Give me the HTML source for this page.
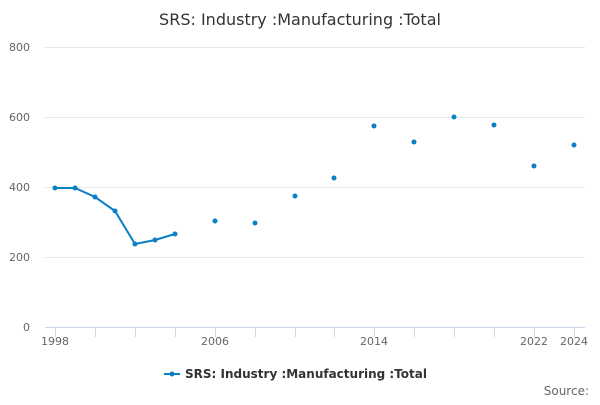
<!DOCTYPE html>
<html><head><meta charset="utf-8"><style>
body{margin:0;background:#fff;}
svg text{font-family:"DejaVu Sans","Liberation Sans",sans-serif;}
</style></head><body>
<svg width="600" height="400" xmlns="http://www.w3.org/2000/svg">
<rect width="600" height="400" fill="#fff"/>
<text x="300" y="25" text-anchor="middle" font-size="16" fill="#333">SRS: Industry :Manufacturing :Total</text>
<g stroke="#e6e6e6" stroke-width="1">
<line x1="45" x2="585" y1="47.5" y2="47.5"/>
<line x1="45" x2="585" y1="117.5" y2="117.5"/>
<line x1="45" x2="585" y1="187.5" y2="187.5"/>
<line x1="45" x2="585" y1="257.5" y2="257.5"/>
</g>
<line x1="45" x2="585" y1="327.5" y2="327.5" stroke="#ccd6eb"/>
<g stroke="#ccd6eb">
<line x1="55.5" x2="55.5" y1="327" y2="337"/><line x1="95.5" x2="95.5" y1="327" y2="337"/>
<line x1="135.5" x2="135.5" y1="327" y2="337"/><line x1="175.5" x2="175.5" y1="327" y2="337"/>
<line x1="215.5" x2="215.5" y1="327" y2="337"/><line x1="255.5" x2="255.5" y1="327" y2="337"/>
<line x1="295.5" x2="295.5" y1="327" y2="337"/><line x1="334.5" x2="334.5" y1="327" y2="337"/>
<line x1="374.5" x2="374.5" y1="327" y2="337"/><line x1="414.5" x2="414.5" y1="327" y2="337"/>
<line x1="454.5" x2="454.5" y1="327" y2="337"/><line x1="494.5" x2="494.5" y1="327" y2="337"/>
<line x1="534.5" x2="534.5" y1="327" y2="337"/><line x1="574.5" x2="574.5" y1="327" y2="337"/>
</g>
<g font-size="11" fill="#666" text-anchor="end">
<text x="30" y="51">800</text><text x="30" y="121">600</text><text x="30" y="191">400</text>
<text x="30" y="261">200</text><text x="30" y="331">0</text>
</g>
<g font-size="11" fill="#666" text-anchor="middle">
<text x="55" y="345">1998</text><text x="215" y="345">2006</text><text x="374" y="345">2014</text>
<text x="534" y="345">2022</text><text x="574" y="345">2024</text>
</g>
<polyline fill="none" stroke="#0a7fc2" stroke-width="2" points="55,188 75,188 95,197 115,211 135,244 155,240 175,234"/>
<g fill="#0a7fc2">
<circle cx="55" cy="188" r="2.5"/><circle cx="75" cy="188" r="2.5"/><circle cx="95" cy="197" r="2.5"/>
<circle cx="115" cy="211" r="2.5"/><circle cx="135" cy="244" r="2.5"/><circle cx="155" cy="240" r="2.5"/>
<circle cx="175" cy="234" r="2.5"/><circle cx="215" cy="221" r="2.5"/><circle cx="255" cy="223" r="2.5"/>
<circle cx="295" cy="196" r="2.5"/><circle cx="334" cy="178" r="2.5"/><circle cx="374" cy="126" r="2.5"/>
<circle cx="414" cy="142" r="2.5"/><circle cx="454" cy="117" r="2.5"/><circle cx="494" cy="125" r="2.5"/>
<circle cx="534" cy="166" r="2.5"/><circle cx="574" cy="145" r="2.5"/>
</g>
<line x1="164" x2="180" y1="374" y2="374" stroke="#0a7fc2" stroke-width="2"/>
<circle cx="172" cy="374" r="2.5" fill="#0a7fc2"/>
<text x="185" y="378" font-size="12" font-weight="bold" fill="#333">SRS: Industry :Manufacturing :Total</text>
<text x="589" y="395" font-size="12" fill="#666" text-anchor="end">Source:</text>
</svg>
</body></html>
